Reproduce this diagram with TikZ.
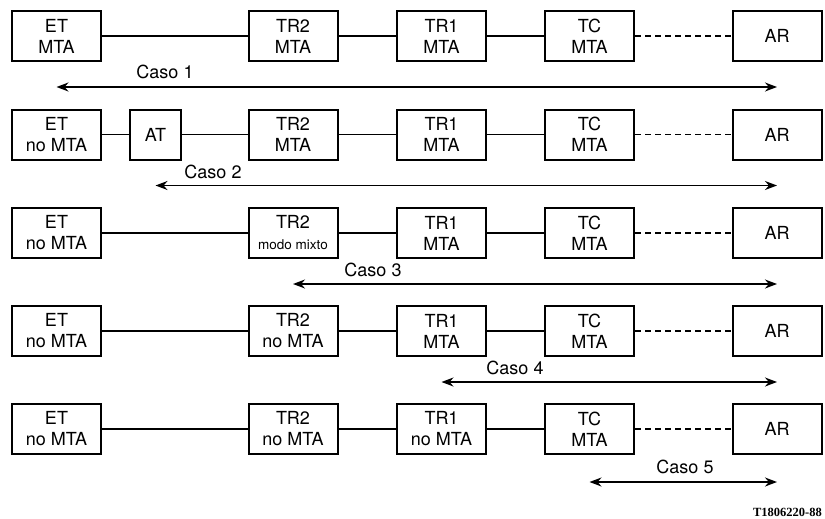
\documentclass[tikz,border=0pt]{standalone}
\usepackage{fontspec}
\setmainfont{TeX Gyre Heros}
\newfontfamily\codefont{Liberation Serif}
\usetikzlibrary{arrows.meta}
\begin{document}
\begin{tikzpicture}[x=1pt,y=-1pt,
  box/.style={draw, line width=2pt, minimum height=50pt, align=center, inner sep=0pt,
    font=\fontsize{18}{21}\selectfont},
  wbox/.style={box, minimum width=89pt},
  link/.style={line width=1.4pt},
  dlink/.style={line width=1.5pt, dash pattern=on 6pt off 4pt},
  casearrow/.style={line width=1.6pt, {Stealth[length=12pt,width=9pt]}-{Stealth[length=12pt,width=9pt]}},
  lbl/.style={font=\fontsize{18}{21}\selectfont, inner sep=0pt},
]
\useasboundingbox (0,0) rectangle (825,519);
% row y centres
\def\ya{36}\def\yb{134.5}\def\yc{233}\def\yd{331}\def\ye{429}
% Row 1
\node[wbox] (et1) at (56.5,\ya) {ET\\MTA};
\node[wbox] (trb1) at (293,\ya) {TR2\\MTA};
\node[wbox] (tra1) at (441.5,\ya) {TR1\\MTA};
\node[wbox] (tc1) at (589.5,\ya) {TC\\MTA};
\node[wbox] (ar1) at (777,\ya) {AR};
\draw[link] (et1) -- (trb1);
\draw[link] (trb1) -- (tra1);
\draw[link] (tra1) -- (tc1);
\draw[dlink] (tc1) -- (ar1);
\draw[casearrow] ([yshift=-51pt]et1.center) -- ([yshift=-51pt]ar1.center);
\node[lbl] (c1) at (165,\ya+36) {Caso 1};
% Row 2
\node[wbox] (et2) at (56.5,\yb) {ET\\no MTA};
\node[box, minimum width=51pt] (at2) at (155.5,\yb) {AT};
\node[wbox] (trb2) at (293,\yb) {TR2\\MTA};
\node[wbox] (tra2) at (441.5,\yb) {TR1\\MTA};
\node[wbox] (tc2) at (589.5,\yb) {TC\\MTA};
\node[wbox] (ar2) at (777,\yb) {AR};
\draw[link] (et2) -- (at2);
\draw[link] (at2) -- (trb2);
\draw[link] (trb2) -- (tra2);
\draw[link] (tra2) -- (tc2);
\draw[dlink] (tc2) -- (ar2);
\draw[casearrow] ([yshift=-51pt]at2.center) -- ([yshift=-51pt]ar2.center);
\node[lbl] (c2) at (213,\yb+37) {Caso 2};
% Row 3
\node[wbox] (et3) at (56.5,\yc) {ET\\no MTA};
\node[wbox] (trb3) at (293,\yc) {TR2\\{\fontsize{13.5}{16}\selectfont modo mixto}};
\node[wbox] (tra3) at (441.5,\yc) {TR1\\MTA};
\node[wbox] (tc3) at (589.5,\yc) {TC\\MTA};
\node[wbox] (ar3) at (777,\yc) {AR};
\draw[link] (et3) -- (trb3);
\draw[link] (trb3) -- (tra3);
\draw[link] (tra3) -- (tc3);
\draw[dlink] (tc3) -- (ar3);
\draw[casearrow] ([yshift=-51pt]trb3.center) -- ([yshift=-51pt]ar3.center);
\node[lbl] (c3) at (373,\yc+37) {Caso 3};
% Row 4
\node[wbox] (et4) at (56.5,\yd) {ET\\no MTA};
\node[wbox] (trb4) at (293,\yd) {TR2\\no MTA};
\node[wbox] (tra4) at (441.5,\yd) {TR1\\MTA};
\node[wbox] (tc4) at (589.5,\yd) {TC\\MTA};
\node[wbox] (ar4) at (777,\yd) {AR};
\draw[link] (et4) -- (trb4);
\draw[link] (trb4) -- (tra4);
\draw[link] (tra4) -- (tc4);
\draw[dlink] (tc4) -- (ar4);
\draw[casearrow] ([yshift=-51pt]tra4.center) -- ([yshift=-51pt]ar4.center);
\node[lbl] (c4) at (515,\yd+37) {Caso 4};
% Row 5
\node[wbox] (et5) at (56.5,\ye) {ET\\no MTA};
\node[wbox] (trb5) at (293,\ye) {TR2\\no MTA};
\node[wbox] (tra5) at (441.5,\ye) {TR1\\no MTA};
\node[wbox] (tc5) at (589.5,\ye) {TC\\MTA};
\node[wbox] (ar5) at (777,\ye) {AR};
\draw[link] (et5) -- (trb5);
\draw[link] (trb5) -- (tra5);
\draw[link] (tra5) -- (tc5);
\draw[dlink] (tc5) -- (ar5);
\draw[casearrow] ([yshift=-53pt]tc5.center) -- ([yshift=-53pt]ar5.center);
\node[lbl] (c5) at (685,\ye+38) {Caso 5};
% figure code
\node[font=\codefont\bfseries\fontsize{12.5}{15}\selectfont, anchor=east, inner sep=0pt] (code) at (822,512) {T1806220-88};
\end{tikzpicture}
\end{document}
